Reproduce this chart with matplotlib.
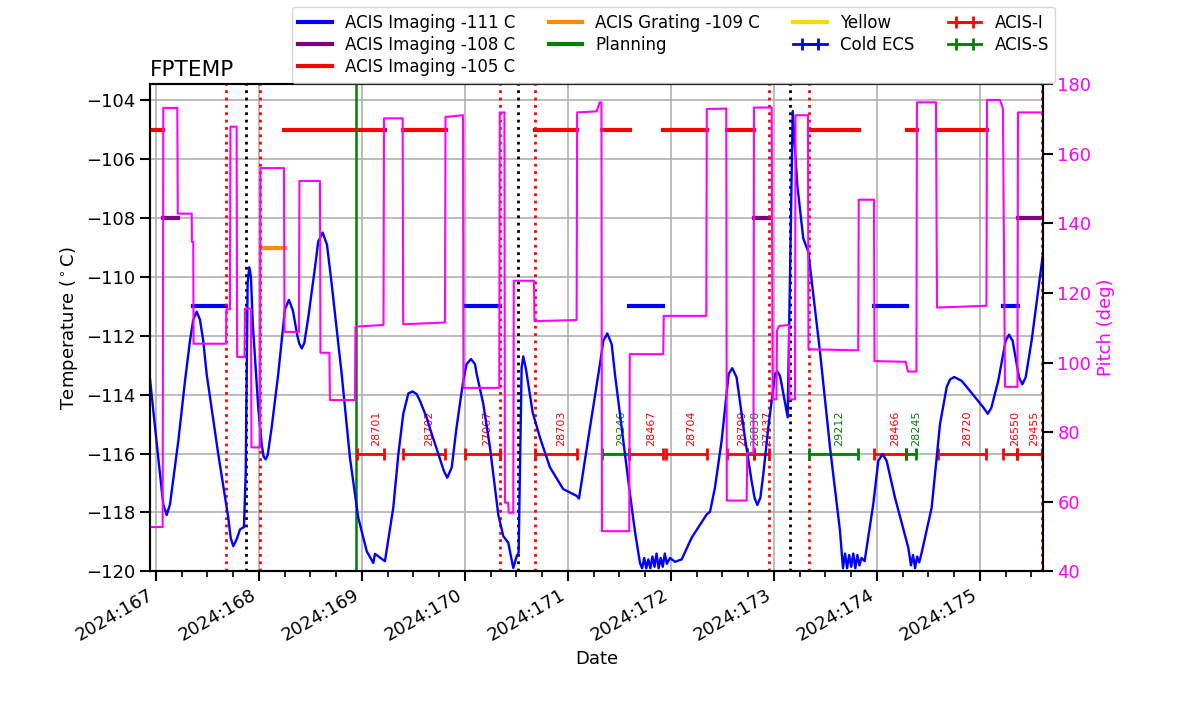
import datetime as dt

import matplotlib
matplotlib.use("Agg")
import matplotlib.dates as mdates
import matplotlib.pyplot as plt
from matplotlib.lines import Line2D

plt.rcParams["font.size"] = 13

# --- Data (times are 2024 day-of-year) ---

# FPTEMP model, (doy, degC)
fptemp_points = [
    (166.942, -113.47), (167.022, -116.14), (167.071, -117.73), (167.104, -118.09),
    (167.136, -117.73), (167.217, -115.57), (167.282, -113.53), (167.330, -112.17),
    (167.362, -111.45), (167.395, -111.18), (167.427, -111.45), (167.459, -112.17),
    (167.492, -113.30), (167.605, -116.03), (167.702, -118.18), (167.725, -118.86),
    (167.750, -119.15), (167.783, -118.92), (167.816, -118.58), (167.854, -118.50),
    (167.871, -116.70), (167.890, -110.20), (167.906, -109.67), (167.922, -110.00),
    (167.940, -111.60), (167.961, -112.74), (167.993, -114.44), (168.026, -115.68),
    (168.045, -116.10), (168.065, -116.20), (168.085, -116.05), (168.123, -115.12),
    (168.187, -113.30), (168.252, -111.10), (168.291, -110.78), (168.330, -111.15),
    (168.370, -111.95), (168.390, -112.25), (168.415, -112.43), (168.440, -112.25),
    (168.479, -111.37), (168.544, -109.67), (168.575, -108.80), (168.618, -108.49),
    (168.660, -108.90), (168.706, -110.24), (168.803, -113.30), (168.883, -116.14),
    (168.964, -118.18), (169.046, -119.32), (169.110, -119.72), (169.126, -119.41),
    (169.223, -119.66), (169.304, -117.84), (169.353, -116.03), (169.401, -114.65),
    (169.450, -113.96), (169.492, -113.89), (169.530, -113.98), (169.563, -114.21),
    (169.628, -114.78), (169.660, -115.15), (169.796, -116.60), (169.828, -116.82),
    (169.871, -116.48), (169.918, -115.12), (169.983, -113.53), (170.016, -112.96),
    (170.058, -112.79), (170.097, -112.96), (170.114, -113.30), (170.178, -114.32),
    (170.243, -115.80), (170.323, -118.07), (170.372, -118.81), (170.420, -119.03),
    (170.469, -119.89), (170.502, -119.49), (170.521, -119.37), (170.550, -113.08),
    (170.566, -112.70), (170.592, -113.13), (170.657, -114.60), (170.728, -115.46),
    (170.825, -116.47), (170.954, -117.21), (171.084, -117.44), (171.107, -117.53),
    (171.214, -115.11), (171.311, -112.95), (171.343, -112.17), (171.382, -111.92),
    (171.424, -112.28), (171.456, -113.30), (171.521, -115.11), (171.602, -117.38),
    (171.650, -118.64), (171.699, -119.72),
    (171.72, -119.90), (171.74, -119.55), (171.76, -119.90), (171.78, -119.60),
    (171.80, -119.90), (171.82, -119.50), (171.84, -119.85), (171.86, -119.40),
    (171.88, -119.90), (171.90, -119.55), (171.92, -119.85), (171.94, -119.40),
    (171.96, -119.75), (171.99, -119.55),
    (172.039, -119.68), (172.104, -119.60), (172.201, -118.86), (172.347, -118.07),
    (172.379, -117.98), (172.427, -117.16), (172.492, -115.56), (172.530, -114.30),
    (172.560, -113.30), (172.595, -113.10), (172.637, -113.41), (172.718, -115.46),
    (172.783, -116.94), (172.811, -117.50), (172.838, -117.75), (172.868, -117.50),
    (172.896, -116.71), (172.945, -115.11), (172.993, -113.76), (173.010, -113.30),
    (173.032, -113.21), (173.058, -113.36), (173.074, -113.64), (173.133, -114.77),
    (173.182, -104.36), (173.226, -106.86), (173.284, -108.68), (173.333, -109.14),
    (173.447, -112.55), (173.544, -115.79), (173.641, -118.63),
    (173.67, -119.90), (173.69, -119.40), (173.71, -119.90), (173.73, -119.45),
    (173.75, -119.85), (173.77, -119.40), (173.79, -119.90), (173.81, -119.45),
    (173.83, -119.80), (173.85, -119.55), (173.88, -119.66),
    (173.964, -117.72), (174.013, -116.25), (174.055, -116.02), (174.094, -116.25),
    (174.175, -117.50), (174.304, -119.20),
    (174.33, -119.80), (174.35, -119.45), (174.37, -119.90), (174.39, -119.50),
    (174.41, -119.70),
    (174.434, -119.37), (174.531, -117.84), (174.612, -115.00), (174.677, -113.74),
    (174.710, -113.48), (174.750, -113.40), (174.822, -113.53), (174.886, -113.80),
    (175.032, -114.43), (175.075, -114.65), (175.110, -114.45), (175.178, -113.52),
    (175.249, -112.17), (175.282, -111.96), (175.317, -112.17), (175.379, -113.41),
    (175.411, -113.65), (175.444, -113.41), (175.502, -112.15), (175.608, -109.31),
]

# pitch, (doy, deg)
pitch_points = [
    (166.942, 52.7), (167.065, 52.7), (167.071, 173.2), (167.207, 173.2),
    (167.212, 142.8), (167.347, 142.8), (167.349, 134.7), (167.362, 134.7),
    (167.365, 105.4), (167.680, 105.4), (167.684, 115.3), (167.718, 115.3),
    (167.723, 167.8), (167.783, 167.8), (167.788, 101.6), (167.859, 101.6),
    (167.864, 115.5), (167.922, 115.5), (167.927, 75.6), (168.010, 75.6),
    (168.015, 155.9), (168.243, 155.9), (168.248, 108.8), (168.388, 108.8),
    (168.393, 152.2), (168.592, 152.2), (168.597, 102.8), (168.684, 102.8),
    (168.689, 89.2), (168.932, 89.2), (168.937, 110.3), (169.209, 110.8),
    (169.214, 170.2), (169.395, 170.2), (169.400, 111.0), (169.806, 111.5),
    (169.811, 170.6), (169.981, 171.1), (169.985, 92.7), (170.333, 92.7),
    (170.338, 171.9), (170.383, 171.9), (170.388, 59.7), (170.420, 59.7),
    (170.425, 56.8), (170.469, 56.8), (170.474, 123.5), (170.670, 123.5),
    (170.675, 111.9), (171.084, 112.2), (171.089, 171.9), (171.278, 172.2),
    (171.308, 174.8), (171.325, 174.8), (171.330, 51.5), (171.595, 51.5),
    (171.600, 102.4), (171.925, 102.4), (171.930, 113.4), (172.343, 113.4),
    (172.348, 172.9), (172.537, 173.0), (172.542, 60.3), (172.735, 60.3),
    (172.740, 74.0), (172.801, 74.0), (172.806, 173.3), (172.978, 173.3),
    (172.987, 89.4), (173.024, 89.4), (173.029, 109.1), (173.049, 110.5),
    (173.146, 110.8), (173.150, 89.4), (173.204, 89.4), (173.209, 171.1),
    (173.330, 171.1), (173.335, 103.8), (173.818, 103.5), (173.823, 146.8),
    (173.971, 146.8), (173.976, 100.4), (174.279, 100.2), (174.301, 97.4),
    (174.383, 97.4), (174.388, 174.8), (174.573, 174.8), (174.583, 115.8),
    (175.063, 116.3), (175.068, 175.5), (175.194, 175.5), (175.223, 173.0),
    (175.243, 93.0), (175.364, 93.0), (175.369, 171.9), (175.610, 171.9),
]

# temperature limit in force over each interval (start, stop)
lim_111 = [(167.362, 167.680), (170.000, 170.340), (171.595, 171.925),
           (173.971, 174.288), (175.226, 175.372)]
lim_108 = [(167.071, 167.217), (172.809, 172.954), (175.372, 175.599)]
lim_105 = [(166.942, 167.071), (168.243, 169.223), (169.395, 169.816),
           (170.680, 171.090), (171.327, 171.602), (171.925, 172.347),
           (172.541, 172.809), (173.343, 173.828), (174.288, 174.391),
           (174.580, 175.065)]
lim_109 = [(168.017, 168.252)]

# radiation zone entry/exit, perigee, planning
rad_zone = [167.680, 168.010, 170.340, 170.680, 172.954, 173.343, 175.599]
perigee = [167.874, 170.517, 173.155]
planning = [168.942]

obsid_ids = ["28701", "28702", "27067", "28703", "29246", "28467", "28704",
             "28799", "26830", "27437", "29212", "28466", "28245", "28720",
             "26550", "29455"]
obsid_start = [168.954, 169.401, 170.000, 170.680, 171.335, 171.594, 171.956,
               172.544, 172.738, 172.808, 173.343, 173.974, 174.279, 174.595,
               175.226, 175.362]
obsid_stop = [169.214, 169.806, 170.340, 171.090, 171.594, 171.927, 172.347,
              172.738, 172.808, 172.954, 173.818, 174.279, 174.379, 175.055,
              175.362, 175.599]
obsid_inst = ["I", "I", "I", "I", "S", "I", "I", "I", "S", "I", "S", "I", "S",
              "I", "I", "I"]
obsid_level = -116.0


def doy2date(d):
    return dt.datetime(2024, 1, 1) + dt.timedelta(days=d - 1)


def dates(seq):
    return [doy2date(d) for d in seq]


fptemp_doy, fptemp_val = zip(*fptemp_points)
pitch_doy, pitch_val = zip(*pitch_points)

fig, ax = plt.subplots(figsize=(12, 7.14), dpi=100)

# limit segments
for a, b in lim_111:
    h111, = ax.plot(dates([a, b]), [-111, -111], color="blue", lw=3)
for a, b in lim_108:
    h108, = ax.plot(dates([a, b]), [-108, -108], color="purple", lw=3)
for a, b in lim_105:
    h105, = ax.plot(dates([a, b]), [-105, -105], color="red", lw=3)
for a, b in lim_109:
    h109, = ax.plot(dates([a, b]), [-109, -109], color="darkorange", lw=3)

for d in rad_zone:
    ax.axvline(doy2date(d), color="red", ls=":", lw=2)
for d in perigee:
    ax.axvline(doy2date(d), color="black", ls=":", lw=2)
for d in planning:
    ax.axvline(doy2date(d), color="green", lw=1.8)

# obsid bars
colors = {"I": "red", "S": "green"}
handles_inst = {}
mids = []
for oid, t0, t1, inst in zip(obsid_ids, obsid_start, obsid_stop, obsid_inst):
    d0, d1 = doy2date(t0), doy2date(t1)
    mid = d0 + (d1 - d0) / 2
    mids.append((mid, d0, d1))
    eb = ax.errorbar([mid], [obsid_level], xerr=[[mid - d0], [d1 - mid]],
                     color=colors[inst], lw=2, capsize=4, capthick=2)
    handles_inst.setdefault(inst, eb)
    ax.text(mid, obsid_level + 0.25, oid, rotation=90, fontsize=8,
            color=colors[inst], ha="left", va="bottom")

# legend-only proxy for Cold ECS (removed from the axes after the legend is built)
m0, a0, b0 = mids[0]
cold_ecs = ax.errorbar([m0], [obsid_level], xerr=[[m0 - a0], [b0 - m0]],
                       color="blue", lw=2, capsize=4, capthick=2)

ax.plot(dates(fptemp_doy), fptemp_val, color="blue", lw=1.7, zorder=3)

ax.set_xlim(doy2date(166.942), doy2date(175.61))
ax.set_ylim(-120, -103.45)
ax.xaxis.set_major_locator(mdates.DayLocator())
ax.xaxis.set_minor_locator(mdates.HourLocator(byhour=[6, 12, 18]))
ax.xaxis.set_major_formatter(mdates.DateFormatter("%Y:%j"))
ax.grid(True, lw=1.2, color="#b0b0b0")
ax.set_xlabel("Date")
ax.set_ylabel("Temperature ($^\\circ$C)")
ax.set_title("FPTEMP", loc="left")

ax2 = ax.twinx()
ax2.plot(dates(pitch_doy), pitch_val, color="magenta", lw=1.5)
ax2.set_ylim(40, 180)
ax2.set_ylabel("Pitch (deg)", color="magenta")
ax2.tick_params(axis="y", labelcolor="magenta")

for a in (ax, ax2):
    for sp in a.spines.values():
        sp.set_linewidth(1.5)
    a.tick_params(which="major", length=7, width=1.5)
    a.tick_params(which="minor", length=4, width=1.2)

fig.autofmt_xdate()
fig.subplots_adjust(left=0.125, right=0.869, top=0.882, bottom=0.2)

handles = [
    h111, h108, h105, h109,
    Line2D([], [], color="green", lw=3),
    Line2D([], [], color="gold", lw=3),
    cold_ecs, handles_inst["I"], handles_inst["S"],
]
labels = ["ACIS Imaging -111 C", "ACIS Imaging -108 C", "ACIS Imaging -105 C",
          "ACIS Grating -109 C", "Planning", "Yellow", "Cold ECS", "ACIS-I",
          "ACIS-S"]
fig.legend(handles, labels, ncol=4, fontsize=12, loc="upper left",
           bbox_to_anchor=(0.243, 0.99), borderaxespad=0, labelspacing=0.25)
cold_ecs.remove()

fig.savefig("out.png", dpi=100)
